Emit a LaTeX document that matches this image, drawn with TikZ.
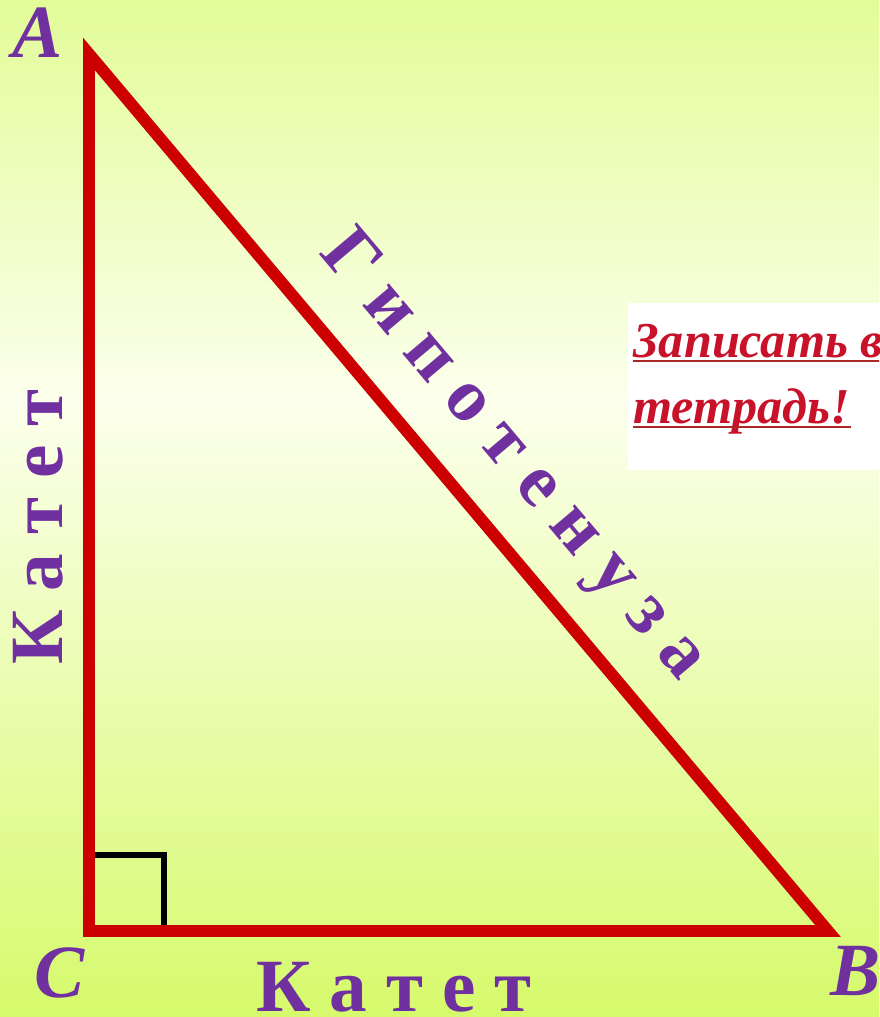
\documentclass[tikz,border=0pt]{standalone}
\usepackage{fontspec}
\setmainfont{Liberation Serif}
\definecolor{trired}{RGB}{204,0,0}
\definecolor{katpurple}{RGB}{112,48,160}
\definecolor{notered}{RGB}{200,18,42}
\definecolor{ulred}{RGB}{170,40,40}
\definecolor{bgtop}{RGB}{226,252,152}
\definecolor{bgmid}{RGB}{252,255,236}
\definecolor{bgbot}{RGB}{214,250,108}
\begin{document}
\begin{tikzpicture}[x=0.02cm, y=-0.02cm, line join=miter,
		vlbl/.style={text=katpurple, inner sep=0pt, font=\fontsize{42.8}{50}\selectfont\bfseries\itshape},
		kat/.style={text=katpurple, inner sep=0pt, font=\fontsize{42.8}{50}\selectfont\bfseries},
		note/.style={text=notered, inner sep=0pt, anchor=base west, font=\fontsize{28.6}{34}\selectfont\bfseries\itshape},
		ul/.style={ulred, line width=1.7pt}]
	\useasboundingbox (0,0) rectangle (879,1017);
	\clip (0,0) rectangle (879,1017);
	% background
	\shade[top color=bgtop, bottom color=bgmid] (0,0) rectangle (879,400);
	\shade[top color=bgmid, bottom color=bgbot] (0,400) rectangle (879,1017);
	% vertices
	\coordinate (A) at (89,54);
	\coordinate (B) at (828,931);
	\coordinate (C) at (89,931);
	% right angle
	\draw[line width=3.4pt] (C) ++(0,-76) -| ++(75,76);
	\draw[trired, line width=6.8pt] (A) -- (B) -- (C) -- cycle;
	\node[vlbl, anchor=base] (lA) at (38,58) {A};
	\node[vlbl, anchor=base west] (lB) at (830,995) {B};
	\node[vlbl, anchor=base] (lC) at (60,997) {C};
	\node[kat, anchor=base, rotate=90] (katL) at (62,527) {К а т е т};
	\node[kat, anchor=base, rotate=-49.88] (hyp) at (499,468) {Г и п о т е н у з а};
	\node[kat, anchor=base] (katB) at (394,1011) {К а т е т};
	% note
	\fill[white] (628,303) rectangle (879,470);
	\node[note] (note1) at (633,357) {Записать в};
	\node[note] (note2) at (633,423) {тетрадь!};
	\draw[ul] (note1.base west) ++(0,4) -- ++(260,0);
	\draw[ul] (note2.base west) ++(0,4) -- (note2.base east |- 0,427);
\end{tikzpicture}
\end{document}
